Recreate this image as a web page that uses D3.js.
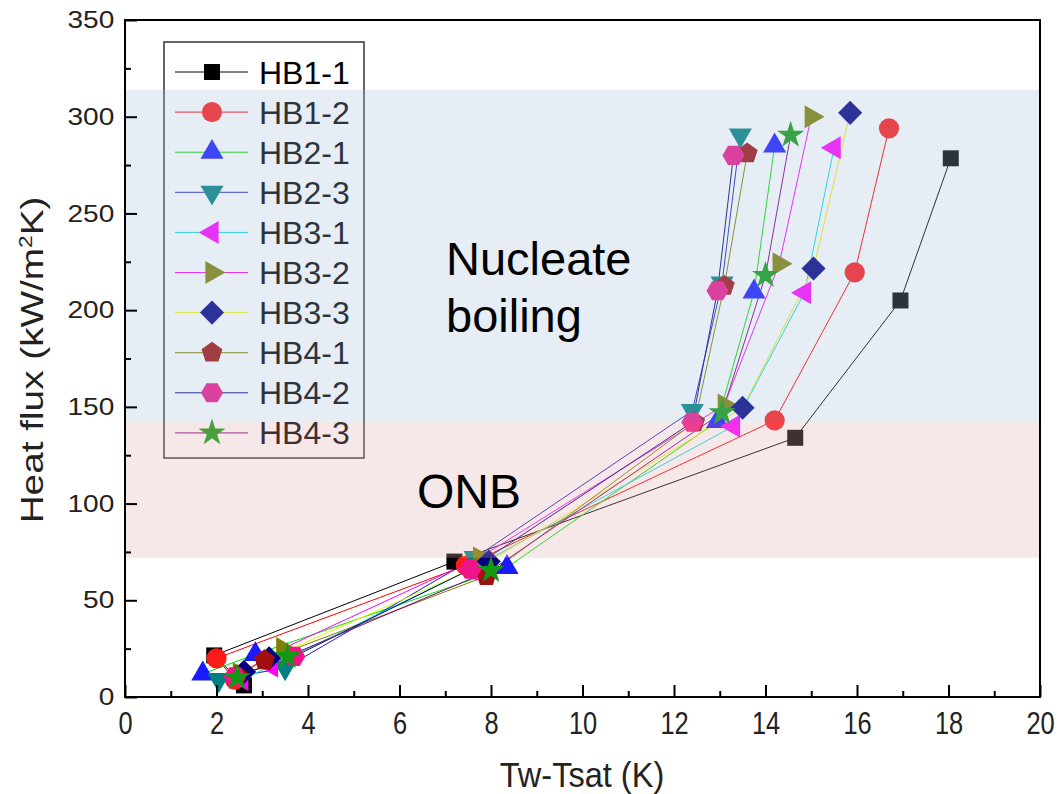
<!DOCTYPE html>
<html>
<head>
<meta charset="utf-8">
<script src="https://cdn.jsdelivr.net/npm/d3@7"></script>
<style>
  body { margin: 0; background: #fff; }
  text { font-family: "Liberation Sans", Arial, sans-serif; }
</style>
</head>
<body>
<div id="chart"></div>
<script>
// series names, in legend order
var NAMES = ['HB1-1', 'HB1-2', 'HB2-1', 'HB2-3', 'HB3-1', 'HB3-2', 'HB3-3', 'HB4-1', 'HB4-2', 'HB4-3'];

// Tw-Tsat (K) values per series
var X_VALS = [
  [2.6, 1.95, 7.2, 14.65, 16.95, 18.05],
  [2.4, 2.0, 7.45, 14.2, 15.95, 16.7],
  [1.7, 2.85, 8.35, 12.95, 13.75, 14.2],
  [2.05, 3.5, 7.65, 12.4, 13.05, 13.45],
  [2.55, 3.2, 7.55, 13.3, 14.85, 15.5],
  [2.5, 3.45, 7.75, 13.1, 14.3, 15.0],
  [2.6, 3.15, 7.95, 13.5, 15.05, 15.85],
  [2.45, 3.05, 7.9, 12.45, 13.1, 13.6],
  [2.4, 3.7, 7.55, 12.4, 12.95, 13.3],
  [2.45, 3.55, 8.0, 13.05, 14.0, 14.55]
];
// heat flux values per series
var Y_VALS = [
  [6, 21.5, 70, 134, 205, 278.5],
  [9, 20, 68, 143, 219.5, 294],
  [12, 22, 67, 142.5, 209.5, 285],
  [9, 15, 72, 148, 214, 290.5],
  [9, 16, 66, 140, 209, 284],
  [12, 25, 72, 151, 224, 300],
  [13, 20, 70, 149.5, 221.5, 302],
  [11, 19, 62.5, 142, 212.5, 281],
  [10.5, 21, 66, 142, 210, 280],
  [10, 21, 65.5, 147, 218, 290.5]
];

var X_TICKS = [0, 2, 4, 6, 8, 10, 12, 14, 16, 18, 20];
var Y_TICKS = [0, 50, 100, 150, 200, 250, 300, 350];

// regions [from, to] in heat flux
var NB_BAND = [142, 314];
var ONB_BAND = [72, 142];

var MARKER_COLORS = ['#000000', '#ff1a1a', '#1a1aff', '#008080', '#ff00ff', '#808000', '#000080', '#a01010', '#f0148a', '#119911'];
var LINE_COLORS = ['#000000', '#ff0000', '#00e000', '#2020c0', '#00e0e0', '#ff00ff', '#f0f000', '#808000', '#000080', '#800080'];
var SHAPES = ['square', 'circle', 'up', 'down', 'left', 'right', 'diamond', 'pentagon', 'hexagon', 'star'];

var W = 1060, H = 794;
var x = d3.scaleLinear().domain([0, 20]).range([125, 1040]);
var y = d3.scaleLinear().domain([0, 350]).range([697, 20]);

function polygon(n, r, rot) {
    var pts = [];
    for (var i = 0; i < n; i++) {
        var a = rot + i * 2 * Math.PI / n;
        pts.push([r * Math.cos(a), r * Math.sin(a)]);
    }
    return 'M' + pts.join('L') + 'Z';
}
function shapePath(s) {
    var tri = d3.symbol(d3.symbolTriangle, 230)();
    switch (s) {
        case 'square': return d3.symbol(d3.symbolSquare, 256)();
        case 'circle': return d3.symbol(d3.symbolCircle, 320)();
        case 'up': return tri;
        case 'diamond': return d3.symbol(d3.symbolSquare, 290)();
        case 'pentagon': return polygon(5, 11, -Math.PI / 2);
        case 'hexagon': return polygon(6, 11, 0);
        case 'star': return d3.symbol(d3.symbolStar, 230)();
        default: return tri;
    }
}
function shapeRot(s) {
    return {down: 180, left: -90, right: 90, diamond: 45}[s] || 0;
}

var svg = d3.select('#chart').append('svg')
    .attr('width', W)
    .attr('height', H);

var series = NAMES.map(function(n, i) {
    return {
        name: n, i: i,
        pts: X_VALS[i].map(function(v, j) { return [v, Y_VALS[i][j]]; })
    };
});

var line = d3.line()
    .x(function(d) { return x(d[0]); })
    .y(function(d) { return y(d[1]); });

var g = svg.append('g');
g.selectAll('.ln').data(series).enter().append('path')
    .attr('d', function(d) { return line(d.pts); })
    .attr('fill', 'none')
    .attr('stroke', function(d) { return LINE_COLORS[d.i]; })
    .attr('stroke-width', 1);

series.forEach(function(s) {
    g.selectAll('.m' + s.i).data(s.pts).enter().append('path')
        .attr('d', shapePath(SHAPES[s.i]))
        .attr('transform', function(d) {
            return 'translate(' + x(d[0]) + ',' + y(d[1]) + ') rotate(' + shapeRot(SHAPES[s.i]) + ')';
        })
        .attr('fill', MARKER_COLORS[s.i]);
});

// legend
var lg = svg.append('g');
lg.append('rect')
    .attr('x', 164).attr('y', 42).attr('width', 200).attr('height', 416)
    .attr('fill', '#fff').attr('stroke', '#333').attr('stroke-width', 1.5);
var rows = lg.selectAll('.row').data(series).enter().append('g')
    .attr('transform', function(d) { return 'translate(0,' + (72 + d.i * 40.1) + ')'; });
rows.append('line')
    .attr('x1', 175).attr('x2', 248)
    .attr('stroke', function(d) { return LINE_COLORS[d.i]; })
    .attr('stroke-width', 1);
rows.append('path')
    .attr('d', function(d) { return shapePath(SHAPES[d.i]); })
    .attr('transform', function(d) { return 'translate(212,0) rotate(' + shapeRot(SHAPES[d.i]) + ')'; })
    .attr('fill', function(d) { return MARKER_COLORS[d.i]; });
rows.append('text')
    .attr('x', 259).attr('y', 11.5)
    .attr('font-size', 32)
    .attr('fill', '#000')
    .text(function(d) { return d.name; });

// regime bands drawn over the data, translucent
svg.append('rect')
    .attr('x', x(0)).attr('width', x(20) - x(0))
    .attr('y', y(NB_BAND[1])).attr('height', y(NB_BAND[0]) - y(NB_BAND[1]))
    .attr('fill', 'rgb(163,189,218)').attr('opacity', 0.27);
svg.append('rect')
    .attr('x', x(0)).attr('width', x(20) - x(0))
    .attr('y', y(ONB_BAND[1])).attr('height', y(ONB_BAND[0]) - y(ONB_BAND[1]))
    .attr('fill', 'rgb(224,173,173)').attr('opacity', 0.28);

svg.append('text').attr('x', 446).attr('y', 275).attr('font-size', 47).text('Nucleate');
svg.append('text').attr('x', 446).attr('y', 332).attr('font-size', 47).text('boiling');
svg.append('text').attr('x', 417).attr('y', 508).attr('font-size', 48).text('ONB');

// axes
var minorX = d3.range(1, 20, 2);
var minorY = d3.range(25, 350, 50);

var ax = svg.append('g')
    .attr('transform', 'translate(0,' + y(0) + ')')
    .call(d3.axisBottom(x).tickValues(X_TICKS).tickSize(-12).tickPadding(15).tickFormat(d3.format('d')));
svg.append('g')
    .attr('transform', 'translate(0,' + y(0) + ')')
    .call(d3.axisBottom(x).tickValues(minorX).tickSize(-6).tickFormat(''));
var ay = svg.append('g')
    .attr('transform', 'translate(' + x(0) + ',0)')
    .call(d3.axisLeft(y).tickValues(Y_TICKS).tickSize(-12).tickPadding(0).tickFormat(d3.format('d')));
svg.append('g')
    .attr('transform', 'translate(' + x(0) + ',0)')
    .call(d3.axisLeft(y).tickValues(minorY).tickSize(-6).tickFormat(''));

svg.selectAll('.domain').remove();
svg.selectAll('.tick line').attr('stroke', '#000').attr('stroke-width', 2);
ax.selectAll('text').attr('font-size', 31).attr('fill', '#222')
    .attr('transform', 'scale(0.82,1)');
ay.selectAll('text').attr('font-size', 24).attr('fill', '#222')
    .attr('transform', 'translate(-13,0) scale(1.17,1) translate(13,0)')
    .attr('x', -11);

// frame
svg.append('rect')
    .attr('x', x(0)).attr('y', y(350))
    .attr('width', x(20) - x(0)).attr('height', y(0) - y(350))
    .attr('fill', 'none').attr('stroke', '#000').attr('stroke-width', 2);

svg.append('text')
    .attr('transform', 'translate(582,787) scale(0.93,1)')
    .attr('text-anchor', 'middle')
    .attr('font-size', 35).attr('fill', '#222')
    .text('Tw-Tsat (K)');

var yl = svg.append('text')
    .attr('transform', 'translate(43,360) rotate(-90) scale(1.25,1)')
    .attr('text-anchor', 'middle')
    .attr('font-size', 31).attr('fill', '#222');
yl.append('tspan').text('Heat flux (kW/m');
yl.append('tspan').attr('font-size', 18).attr('dy', -11).text('2');
yl.append('tspan').attr('dy', 11).text('K)');
</script>
</body>
</html>
